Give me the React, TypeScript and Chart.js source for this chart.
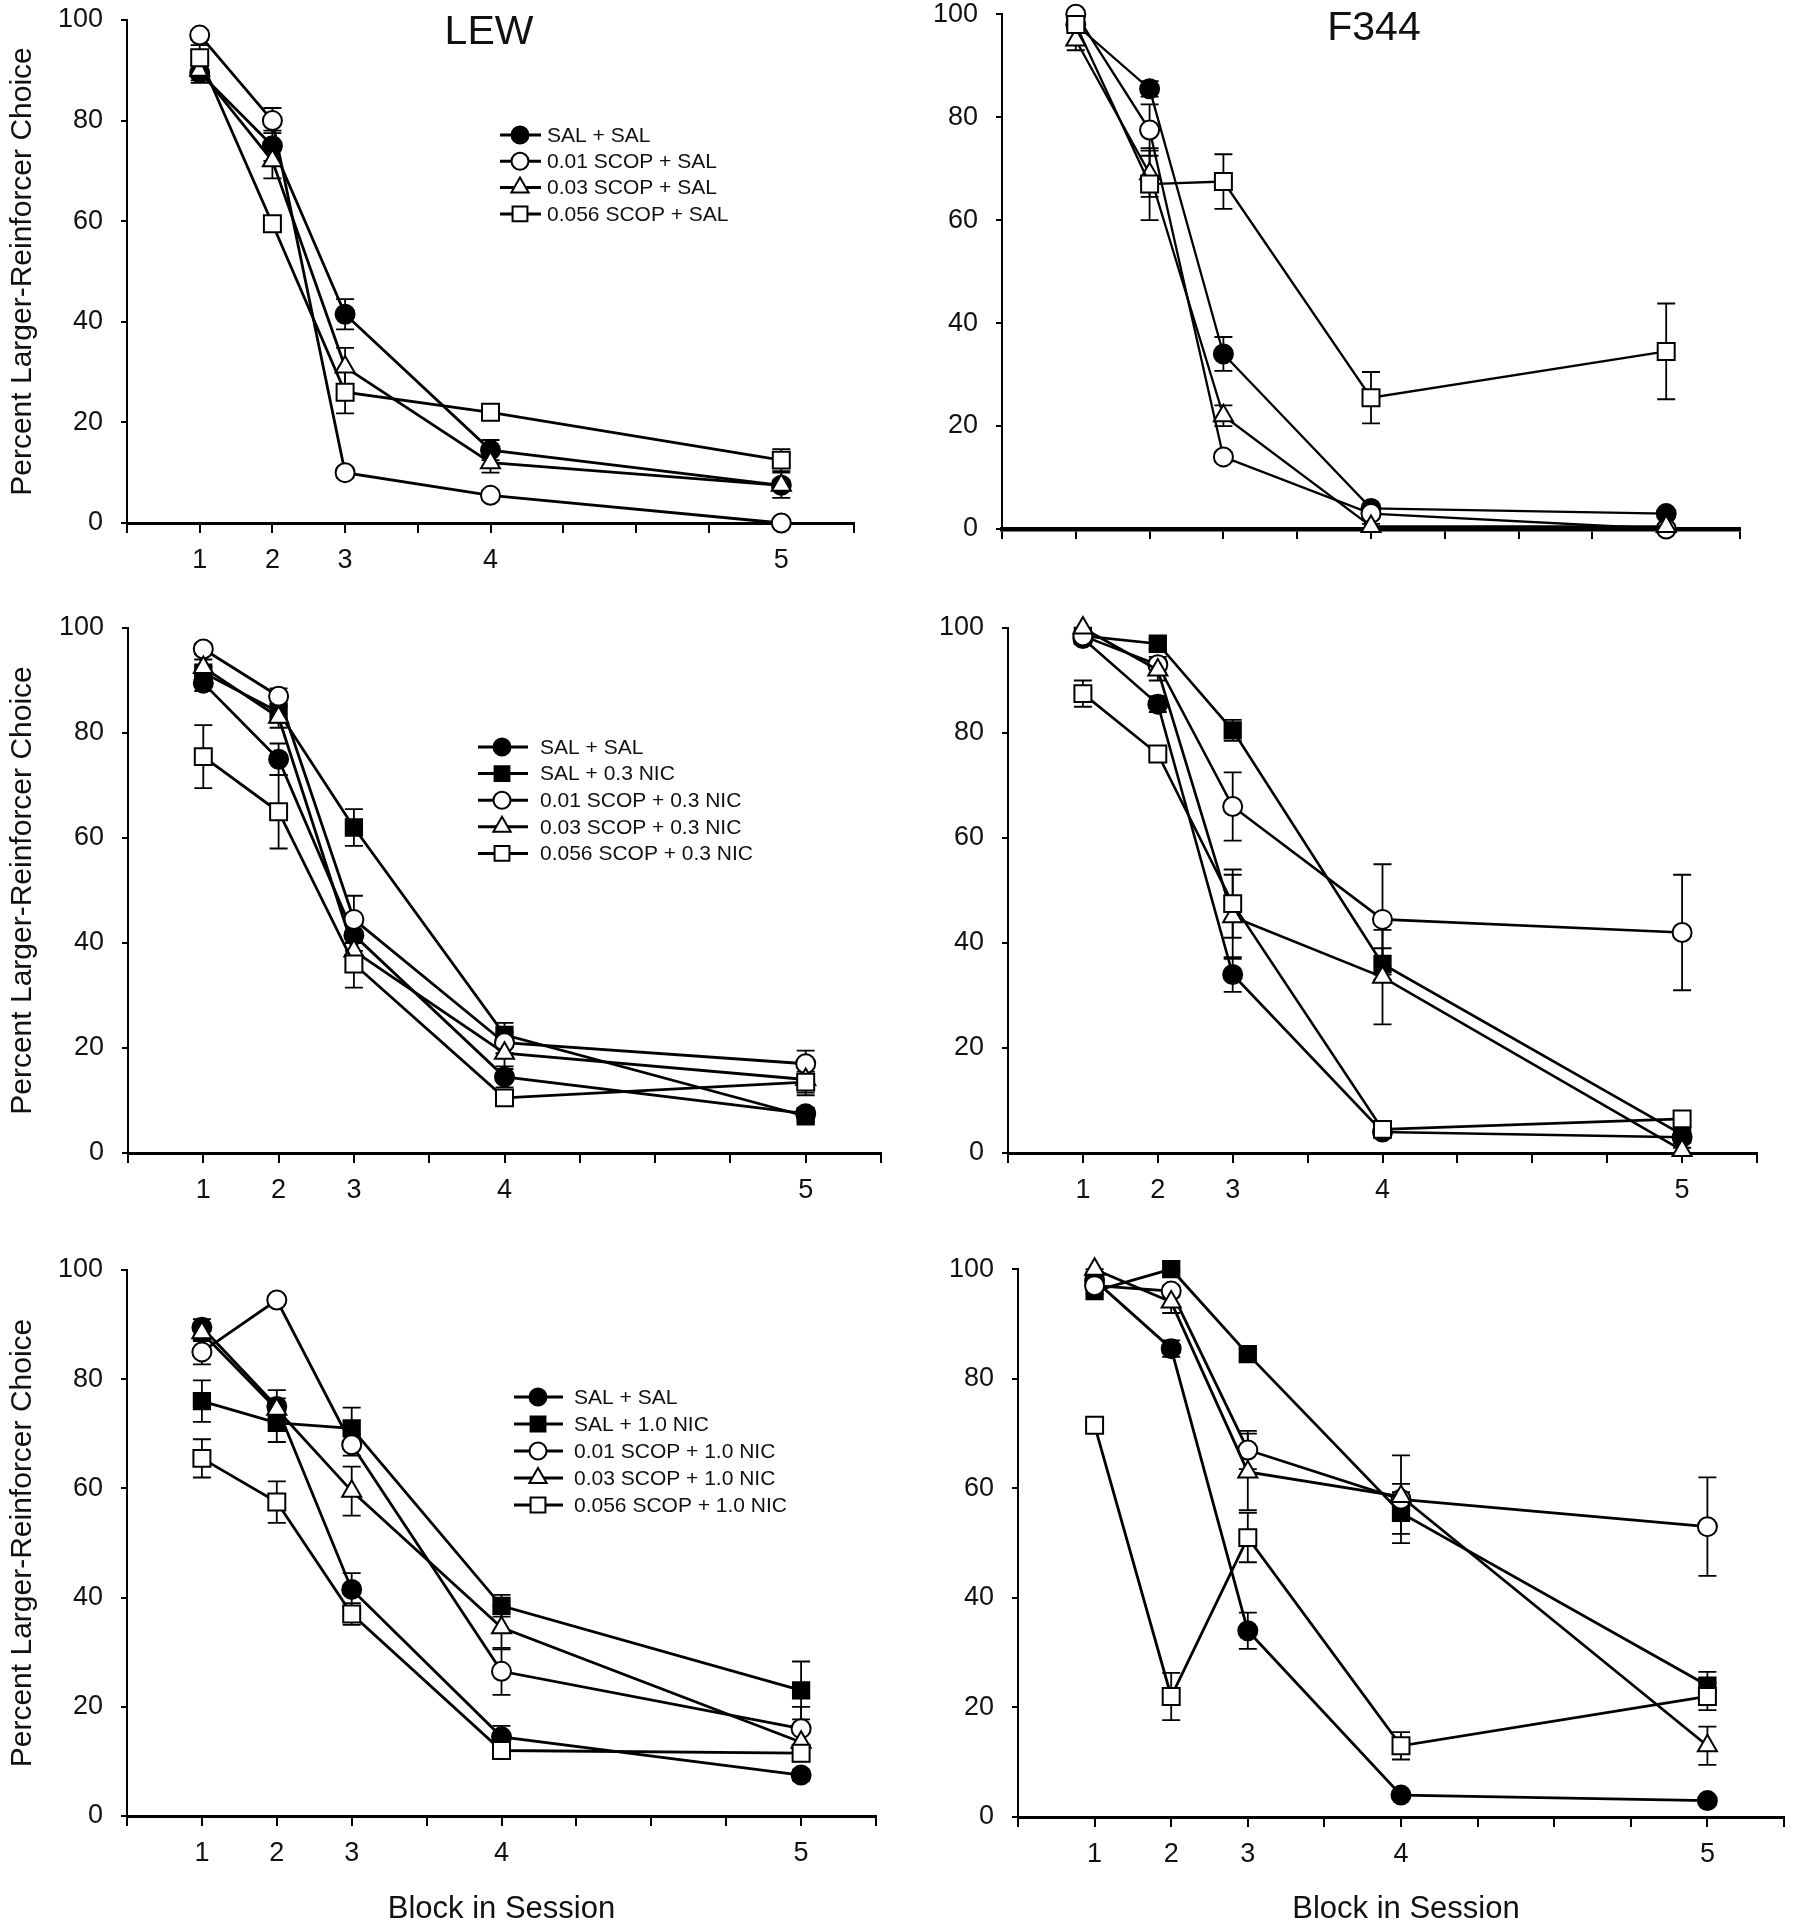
import React, { useEffect, useRef } from 'react';
import { Chart, registerables } from 'chart.js';

Chart.register(...registerables);

const FONT = '"Liberation Sans", Arial, Helvetica, sans-serif';

// x positions of the five blocks on the 0..10 axis and their tick labels
const BLOCK_POS = [1, 2, 3, 5, 9];
const BLOCK_LABELS = ['1', '2', '3', '4', '5'];
const Y_TICKS = [0, 20, 40, 60, 80, 100];

const Y_TITLE = 'Percent Larger-Reinforcer Choice';
const X_TITLE = 'Block in Session';

// ---- shared saline control series ----
const LEW_SAL_SAL = [89.5, 75, 41.5, 14.5, 7.5];
const LEW_SAL_SAL_ERR = [1.5, 3, 3, 2, 1];
const F344_SAL_SAL = [98, 85.5, 34, 4, 3];
const F344_SAL_SAL_ERR = [1, 1.5, 3.3, 0.5, 0.5];

// ---- row 1: SCOP + SAL ----
const LEW_S001_SAL = [97, 80, 10, 5.5, 0];
const LEW_S001_SAL_ERR = [1, 2.5, 1, 1, 0];
const LEW_S003_SAL = [90, 72, 31, 12, 7.5];
const LEW_S003_SAL_ERR = [2.5, 3.5, 3.8, 2, 2.5];
const LEW_S0056_SAL = [92.5, 59.5, 26, 22, 12.5];
const LEW_S0056_SAL_ERR = [2.5, 1, 4.2, 1, 2.2];

const F344_S001_SAL = [100, 77.5, 14, 3, 0];
const F344_S001_SAL_ERR = [0.5, 5, 1, 1, 0];
const F344_S003_SAL = [95, 69, 22, 0.5, 0.5];
const F344_S003_SAL_ERR = [2, 4.5, 2, 0.5, 0.5];
const F344_S0056_SAL = [98, 67, 67.5, 25.5, 34.5];
const F344_S0056_SAL_ERR = [1, 7, 5.3, 5, 9.3];

// ---- row 2: SCOP + 0.3 NIC ----
const LEW_SAL_NIC03 = [91.5, 84, 62, 22.5, 7];
const LEW_SAL_NIC03_ERR = [1, 2, 3.5, 2.3, 1];
const LEW_S001_NIC03 = [96, 87, 44.5, 21, 17];
const LEW_S001_NIC03_ERR = [1, 1.5, 4.5, 2, 2.5];
const LEW_S003_NIC03 = [92.5, 83, 38.5, 19, 14];
const LEW_S003_NIC03_ERR = [1.5, 2, 3.5, 3, 3];
const LEW_S0056_NIC03 = [75.5, 65, 36, 10.5, 13.5];
const LEW_S0056_NIC03_ERR = [6, 7, 4.5, 1, 2];

const F344_SAL_NIC03 = [98.5, 97, 80.5, 36, 3.5];
const F344_SAL_NIC03_ERR = [0.5, 1, 2, 3, 1];
const F344_S001_NIC03 = [98.5, 93, 66, 44.5, 42];
const F344_S001_NIC03_ERR = [0.5, 1.5, 6.5, 10.5, 11];
const F344_S003_NIC03 = [100, 92, 45, 33.5, 0.5];
const F344_S003_NIC03_ERR = [0.5, 2, 8, 9, 0.5];
const F344_S0056_NIC03 = [87.5, 76, 47.5, 4.5, 6.5];
const F344_S0056_NIC03_ERR = [2.5, 1, 6.5, 1, 1];

// ---- row 3: SCOP + 1.0 NIC ----
const LEW_SAL_NIC10 = [76, 72, 71, 38.5, 23];
const LEW_SAL_NIC10_ERR = [3.8, 3.5, 3.8, 2, 5.3];
const LEW_S001_NIC10 = [85, 94.5, 68, 26.5, 16];
const LEW_S001_NIC10_ERR = [2.3, 0.8, 2, 4.3, 4];
const LEW_S003_NIC10 = [88.5, 74.5, 59.5, 34.5, 13.5];
const LEW_S003_NIC10_ERR = [1.5, 2, 4.5, 4, 2];
const LEW_S0056_NIC10 = [65.5, 57.5, 37, 12, 11.5];
const LEW_S0056_NIC10_ERR = [3.5, 3.8, 2, 1, 1.5];

const F344_SAL_NIC10 = [96, 100, 84.5, 55.5, 24];
const F344_SAL_NIC10_ERR = [0.5, 0.5, 1, 3.8, 2.5];
const F344_S001_NIC10 = [97, 96, 67, 58, 53];
const F344_S001_NIC10_ERR = [0.5, 1, 3.5, 8, 9];
const F344_S003_NIC10 = [100, 94, 63, 58.5, 13];
const F344_S003_NIC10_ERR = [0.5, 2, 7, 2.3, 3.5];
const F344_S0056_NIC10 = [71.5, 22, 51, 13, 22];
const F344_S0056_NIC10_ERR = [0.5, 4.3, 4.5, 2.5, 2.5];

type Kind = 'salsal' | 'salnic' | 's001' | 's003' | 's0056';

const MARKERS: Record<Kind, { shape: 'circle' | 'rect' | 'triangle'; fill: string; r: number }> = {
  salsal: { shape: 'circle', fill: '#000', r: 9.5 },
  salnic: { shape: 'rect', fill: '#000', r: 11.5 },
  s001: { shape: 'circle', fill: '#fff', r: 9.5 },
  s003: { shape: 'triangle', fill: '#fff', r: 11 },
  s0056: { shape: 'rect', fill: '#fff', r: 12 },
};

interface Series { label: string; kind: Kind; values: number[]; errors: number[] }
interface Box { left: number; top: number; width: number; height: number }
interface Area { l: number; r: number; t: number; b: number }
interface LegendCfg { x1: number; x2: number; mx: number; tx: number; y0: number; dy: number }
interface PanelCfg {
  box: Box;
  area: Area;
  series: Series[];
  lineWidth: number;
  xBorder: number;
  showXLabels: boolean;
  title?: { text: string; x: number; y: number };
  yTitle?: boolean;
  xTitle?: boolean;
  legend?: LegendCfg;
}

const mk = (label: string, kind: Kind, values: number[], errors: number[]): Series => ({ label, kind, values, errors });

const PANELS: PanelCfg[] = [
  {
    box: { left: 0, top: -20, width: 880, height: 630 },
    area: { l: 127, r: 854, t: 20, b: 523 },
    lineWidth: 2.8, xBorder: 3, showXLabels: true, yTitle: true,
    title: { text: 'LEW', x: 489, y: 33 },
    legend: { x1: 500, x2: 541, mx: 520, tx: 547, y0: 135, dy: 26.3 },
    series: [
      mk('SAL + SAL', 'salsal', LEW_SAL_SAL, LEW_SAL_SAL_ERR),
      mk('0.01 SCOP + SAL', 's001', LEW_S001_SAL, LEW_S001_SAL_ERR),
      mk('0.03 SCOP + SAL', 's003', LEW_S003_SAL, LEW_S003_SAL_ERR),
      mk('0.056 SCOP + SAL', 's0056', LEW_S0056_SAL, LEW_S0056_SAL_ERR),
    ],
  },
  {
    box: { left: 880, top: -20, width: 918, height: 630 },
    area: { l: 1002, r: 1740, t: 14, b: 529 },
    lineWidth: 2.3, xBorder: 4.5, showXLabels: false,
    title: { text: 'F344', x: 1374, y: 29 },
    series: [
      mk('SAL + SAL', 'salsal', F344_SAL_SAL, F344_SAL_SAL_ERR),
      mk('0.01 SCOP + SAL', 's001', F344_S001_SAL, F344_S001_SAL_ERR),
      mk('0.03 SCOP + SAL', 's003', F344_S003_SAL, F344_S003_SAL_ERR),
      mk('0.056 SCOP + SAL', 's0056', F344_S0056_SAL, F344_S0056_SAL_ERR),
    ],
  },
  {
    box: { left: 0, top: 590, width: 899, height: 650 },
    area: { l: 128, r: 881, t: 628, b: 1153 },
    lineWidth: 2.8, xBorder: 3, showXLabels: true, yTitle: true,
    legend: { x1: 478, x2: 528, mx: 502, tx: 540, y0: 747, dy: 26.6 },
    series: [
      mk('SAL + SAL', 'salsal', LEW_SAL_SAL, LEW_SAL_SAL_ERR),
      mk('SAL + 0.3 NIC', 'salnic', LEW_SAL_NIC03, LEW_SAL_NIC03_ERR),
      mk('0.01 SCOP + 0.3 NIC', 's001', LEW_S001_NIC03, LEW_S001_NIC03_ERR),
      mk('0.03 SCOP + 0.3 NIC', 's003', LEW_S003_NIC03, LEW_S003_NIC03_ERR),
      mk('0.056 SCOP + 0.3 NIC', 's0056', LEW_S0056_NIC03, LEW_S0056_NIC03_ERR),
    ],
  },
  {
    box: { left: 899, top: 590, width: 899, height: 650 },
    area: { l: 1008, r: 1757, t: 628, b: 1153 },
    lineWidth: 2.6, xBorder: 3, showXLabels: true,
    series: [
      mk('SAL + SAL', 'salsal', F344_SAL_SAL, F344_SAL_SAL_ERR),
      mk('SAL + 0.3 NIC', 'salnic', F344_SAL_NIC03, F344_SAL_NIC03_ERR),
      mk('0.01 SCOP + 0.3 NIC', 's001', F344_S001_NIC03, F344_S001_NIC03_ERR),
      mk('0.03 SCOP + 0.3 NIC', 's003', F344_S003_NIC03, F344_S003_NIC03_ERR),
      mk('0.056 SCOP + 0.3 NIC', 's0056', F344_S0056_NIC03, F344_S0056_NIC03_ERR),
    ],
  },
  {
    box: { left: 0, top: 1235, width: 899, height: 685 },
    area: { l: 127, r: 876, t: 1270, b: 1816 },
    lineWidth: 2.8, xBorder: 3, showXLabels: true, yTitle: true, xTitle: true,
    legend: { x1: 514, x2: 563, mx: 538, tx: 574, y0: 1397, dy: 27 },
    series: [
      mk('SAL + SAL', 'salsal', LEW_SAL_SAL, LEW_SAL_SAL_ERR),
      mk('SAL + 1.0 NIC', 'salnic', LEW_SAL_NIC10, LEW_SAL_NIC10_ERR),
      mk('0.01 SCOP + 1.0 NIC', 's001', LEW_S001_NIC10, LEW_S001_NIC10_ERR),
      mk('0.03 SCOP + 1.0 NIC', 's003', LEW_S003_NIC10, LEW_S003_NIC10_ERR),
      mk('0.056 SCOP + 1.0 NIC', 's0056', LEW_S0056_NIC10, LEW_S0056_NIC10_ERR),
    ],
  },
  {
    box: { left: 899, top: 1235, width: 899, height: 685 },
    area: { l: 1018, r: 1794, t: 1268, b: 1817 },
    lineWidth: 2.8, xBorder: 3, showXLabels: true, xTitle: true,
    series: [
      mk('SAL + SAL', 'salsal', F344_SAL_SAL, F344_SAL_SAL_ERR),
      mk('SAL + 1.0 NIC', 'salnic', F344_SAL_NIC10, F344_SAL_NIC10_ERR),
      mk('0.01 SCOP + 1.0 NIC', 's001', F344_S001_NIC10, F344_S001_NIC10_ERR),
      mk('0.03 SCOP + 1.0 NIC', 's003', F344_S003_NIC10, F344_S003_NIC10_ERR),
      mk('0.056 SCOP + 1.0 NIC', 's0056', F344_S0056_NIC10, F344_S0056_NIC10_ERR),
    ],
  },
];

const Y_AXIS_W = 80;
const X_AXIS_H = 60;
const TICK_FONT = 27;

function drawMarker(ctx: CanvasRenderingContext2D, shape: string, x: number, y: number, r: number, fill: string) {
  ctx.beginPath();
  if (shape === 'circle') {
    ctx.arc(x, y, r, 0, Math.PI * 2);
  } else if (shape === 'rect') {
    const s = r * Math.SQRT1_2;
    ctx.rect(x - s, y - s, 2 * s, 2 * s);
  } else {
    let a = 0;
    ctx.moveTo(x + Math.sin(a) * r, y - Math.cos(a) * r);
    a += (2 * Math.PI) / 3;
    ctx.lineTo(x + Math.sin(a) * r, y - Math.cos(a) * r);
    a += (2 * Math.PI) / 3;
    ctx.lineTo(x + Math.sin(a) * r, y - Math.cos(a) * r);
    ctx.closePath();
  }
  ctx.fillStyle = fill;
  ctx.fill();
  ctx.lineWidth = 2;
  ctx.strokeStyle = '#000';
  ctx.stroke();
}

const errorBarPlugin = {
  id: 'errorBars',
  beforeDatasetsDraw(chart: any) {
    const ctx: CanvasRenderingContext2D = chart.ctx;
    const yScale = chart.scales.y;
    ctx.save();
    ctx.strokeStyle = '#000';
    ctx.lineWidth = 1.8;
    chart.data.datasets.forEach((ds: any, i: number) => {
      const meta = chart.getDatasetMeta(i);
      (ds.errors as number[]).forEach((e, j) => {
        if (!e) return;
        const pt = meta.data[j];
        const v = ds.data[j].y;
        const yt = yScale.getPixelForValue(Math.min(100, v + e));
        const yb = yScale.getPixelForValue(Math.max(0, v - e));
        const cap = 9;
        ctx.beginPath();
        ctx.moveTo(pt.x, yt);
        ctx.lineTo(pt.x, yb);
        ctx.moveTo(pt.x - cap, yt);
        ctx.lineTo(pt.x + cap, yt);
        ctx.moveTo(pt.x - cap, yb);
        ctx.lineTo(pt.x + cap, yb);
        ctx.stroke();
      });
    });
    ctx.restore();
  },
};

function makeDecor(cfg: PanelCfg) {
  return {
    id: 'decor',
    afterDraw(chart: any) {
      const ctx: CanvasRenderingContext2D = chart.ctx;
      const ox = cfg.box.left;
      const oy = cfg.box.top;
      ctx.save();
      ctx.fillStyle = '#111';
      if (cfg.title) {
        ctx.font = `41px ${FONT}`;
        ctx.textAlign = 'center';
        ctx.textBaseline = 'middle';
        ctx.fillText(cfg.title.text, cfg.title.x - ox, cfg.title.y - oy);
      }
      if (cfg.yTitle) {
        ctx.save();
        ctx.translate(23 - ox, (cfg.area.t + cfg.area.b) / 2 - oy);
        ctx.rotate(-Math.PI / 2);
        ctx.font = `30px ${FONT}`;
        ctx.textAlign = 'center';
        ctx.textBaseline = 'middle';
        ctx.fillText(Y_TITLE, 0, 0);
        ctx.restore();
      }
      if (cfg.xTitle) {
        ctx.font = `31px ${FONT}`;
        ctx.textAlign = 'center';
        ctx.textBaseline = 'middle';
        ctx.fillText(X_TITLE, (cfg.area.l + cfg.area.r) / 2 - ox, 1909 - oy);
      }
      if (cfg.legend) {
        const lg = cfg.legend;
        cfg.series.forEach((s, i) => {
          const y = lg.y0 + i * lg.dy - oy;
          ctx.beginPath();
          ctx.strokeStyle = '#000';
          ctx.lineWidth = 3;
          ctx.moveTo(lg.x1 - ox, y);
          ctx.lineTo(lg.x2 - ox, y);
          ctx.stroke();
          const m = MARKERS[s.kind];
          drawMarker(ctx, m.shape, lg.mx - ox, y, m.shape === 'rect' ? 10.5 : m.shape === 'triangle' ? 10 : 8.5, m.fill);
          ctx.fillStyle = '#111';
          ctx.font = `21px ${FONT}`;
          ctx.textAlign = 'left';
          ctx.textBaseline = 'middle';
          ctx.fillText(s.label, lg.tx - ox, y + 1);
        });
      }
      ctx.restore();
    },
  };
}

function Panel({ cfg }: { cfg: PanelCfg }) {
  const ref = useRef<HTMLCanvasElement | null>(null);
  useEffect(() => {
    if (!ref.current) return;
    const { box, area } = cfg;
    const padding = {
      left: area.l - box.left - Y_AXIS_W,
      right: box.left + box.width - area.r,
      top: area.t - box.top,
      bottom: box.top + box.height - area.b - X_AXIS_H,
    };
    const chart = new Chart(ref.current, {
      type: 'line',
      data: {
        datasets: cfg.series.map((s, i) => {
          const m = MARKERS[s.kind];
          return {
            label: s.label,
            data: BLOCK_POS.map((x, k) => ({ x, y: s.values[k] })),
            errors: s.errors,
            order: -i,
            borderColor: '#000',
            borderWidth: cfg.lineWidth,
            pointStyle: m.shape,
            pointRadius: m.r,
            pointHoverRadius: m.r,
            pointBackgroundColor: m.fill,
            pointBorderColor: '#000',
            pointBorderWidth: 2,
            fill: false,
            tension: 0,
            clip: false,
          } as any;
        }),
      },
      options: {
        animation: false,
        responsive: false,
        maintainAspectRatio: false,
        devicePixelRatio: 1,
        events: [],
        layout: { padding },
        plugins: {
          legend: { display: false },
          tooltip: { enabled: false },
          title: { display: false },
        },
        scales: {
          x: {
            type: 'linear',
            min: 0,
            max: 10,
            afterFit: (s: any) => { s.height = X_AXIS_H; },
            grid: { drawOnChartArea: false, drawTicks: true, tickLength: 10, color: '#000', lineWidth: 2 },
            border: { display: true, color: '#000', width: cfg.xBorder },
            ticks: {
              stepSize: 1,
              autoSkip: false,
              maxRotation: 0,
              padding: 11,
              color: '#111',
              font: { family: FONT, size: TICK_FONT },
              callback: (v: any) => {
                const idx = BLOCK_POS.indexOf(Number(v));
                return cfg.showXLabels && idx >= 0 ? BLOCK_LABELS[idx] : '';
              },
            },
          },
          y: {
            type: 'linear',
            min: 0,
            max: 100,
            afterFit: (s: any) => { s.width = Y_AXIS_W; },
            grid: { drawOnChartArea: false, drawTicks: true, tickLength: 6, color: '#000', lineWidth: 2 },
            border: { display: true, color: '#000', width: 2 },
            ticks: {
              stepSize: 20,
              padding: 18,
              color: '#111',
              font: { family: FONT, size: TICK_FONT },
              callback: (v: any) => (Y_TICKS.includes(Number(v)) ? String(v) : ''),
            },
          },
        },
      } as any,
      plugins: [errorBarPlugin, makeDecor(cfg)],
    });
    return () => chart.destroy();
  }, [cfg]);
  return (
    <canvas
      ref={ref}
      width={cfg.box.width}
      height={cfg.box.height}
      style={{ position: 'absolute', left: cfg.box.left, top: cfg.box.top, width: cfg.box.width, height: cfg.box.height }}
    />
  );
}

export default function App() {
  return (
    <div style={{ position: 'absolute', left: 0, top: 0, width: 1798, height: 1920, background: '#fff', overflow: 'hidden' }}>
      {PANELS.map((p, i) => (
        <Panel key={i} cfg={p} />
      ))}
    </div>
  );
}
